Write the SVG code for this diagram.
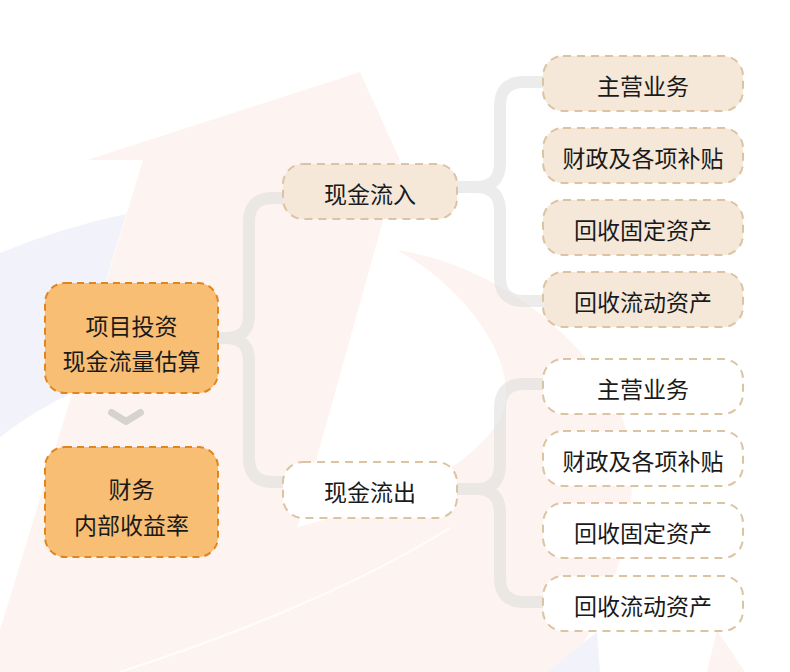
<svg xmlns="http://www.w3.org/2000/svg" width="790" height="672" viewBox="0 0 790 672">
<style>
text{font-family:"Noto Sans CJK SC","Noto Sans",sans-serif;font-size:23px;fill:#1a1a1a;text-anchor:middle;dominant-baseline:central}
.main{fill:#F8BE74;stroke:#E0861E;stroke-width:2;stroke-dasharray:7 5}
.in{fill:#F5E8D9;stroke:#DCC3A2;stroke-width:2;stroke-dasharray:8 6}
.out{fill:#FFFFFF;stroke:#DCC3A2;stroke-width:2;stroke-dasharray:8 6}
.conn{fill:none;stroke:#D9D9D9;stroke-opacity:0.5;stroke-width:12}
.bgp{fill:#FDF4F1}
.bgl{fill:#F2F2FA}
</style>
<rect width="790" height="672" fill="#FFFFFF"/>
<g id="background">
<path class="bgl" d="M0,253 Q60,228 126,214 L72,393 Q35,410 0,437 Z"/>
<path class="bgp" d="M397,250 C480,262 570,320 615,400 C650,470 630,580 565,672 L0,672 L0,640 C100,590 220,545 298,527 C380,505 460,480 500,420 C525,370 470,290 397,250 Z"/>
<path class="bgp" d="M360,72 L400,160 L257,672 L0,672 L0,630 L143,160 L87,160 Z"/>
<path d="M120,672 C220,640 350,590 450,528" fill="none" stroke="#FFFFFF" stroke-width="2" stroke-opacity="0.8"/>
<path class="bgl" d="M547,672 L597,632 L600,672 Z"/>
<path class="bgp" d="M707,672 L717,630 L745,672 Z"/>
</g>
<g id="connectors">
<path class="conn" d="M218,338 L226,338 Q249,338 249,315 L249,222 Q249,198 273,198 L283,198 M218,338 L226,338 Q249,338 249,361 L249,458 Q249,482 273,482 L283,482"/>
<path class="conn" d="M457,187 L476,187 Q500,187 500,163 L500,106 Q500,82 524,82 L543,82 M457,187 L476,187 Q500,187 500,211 L500,277 Q500,301 524,301 L543,301"/>
<path class="conn" d="M457,489 L476,489 Q500,489 500,465 L500,408 Q500,384 524,384 L543,384 M457,489 L476,489 Q500,489 500,513 L500,578 Q500,602 524,602 L543,602"/>
<polyline points="111.5,412.5 126,421.5 140.5,412.5" fill="none" stroke="#D6D2D0" stroke-width="7" stroke-linejoin="round" stroke-linecap="round"/>
</g>
<g id="node-root">
<rect class="main" x="45" y="283" width="173" height="110" rx="20"/>
<text x="131.5" y="325">项目投资</text>
<text x="131.5" y="360">现金流量估算</text>
</g>
<g id="node-irr">
<rect class="main" x="45" y="447" width="173" height="110" rx="20"/>
<text x="131.5" y="488">财务</text>
<text x="131.5" y="524">内部收益率</text>
</g>
<g id="node-inflow">
<rect class="in" x="283" y="164" width="174" height="55" rx="20"/>
<text x="370" y="193">现金流入</text>
</g>
<g id="node-outflow">
<rect class="out" x="283" y="462" width="174" height="56" rx="20"/>
<text x="370" y="491">现金流出</text>
</g>
<g id="node-in-1">
<rect class="in" x="543" y="56" width="200" height="55" rx="20"/>
<text x="643" y="85">主营业务</text>
</g>
<g id="node-in-2">
<rect class="in" x="543" y="128" width="200" height="55" rx="20"/>
<text x="643" y="157">财政及各项补贴</text>
</g>
<g id="node-in-3">
<rect class="in" x="543" y="200" width="200" height="55" rx="20"/>
<text x="643" y="229">回收固定资产</text>
</g>
<g id="node-in-4">
<rect class="in" x="543" y="272" width="200" height="55" rx="20"/>
<text x="643" y="301">回收流动资产</text>
</g>
<g id="node-out-1">
<rect class="out" x="543" y="359" width="200" height="55" rx="20"/>
<text x="643" y="388">主营业务</text>
</g>
<g id="node-out-2">
<rect class="out" x="543" y="431" width="200" height="55" rx="20"/>
<text x="643" y="460">财政及各项补贴</text>
</g>
<g id="node-out-3">
<rect class="out" x="543" y="503" width="200" height="55" rx="20"/>
<text x="643" y="532">回收固定资产</text>
</g>
<g id="node-out-4">
<rect class="out" x="543" y="576" width="200" height="55" rx="20"/>
<text x="643" y="605">回收流动资产</text>
</g>
</svg>
